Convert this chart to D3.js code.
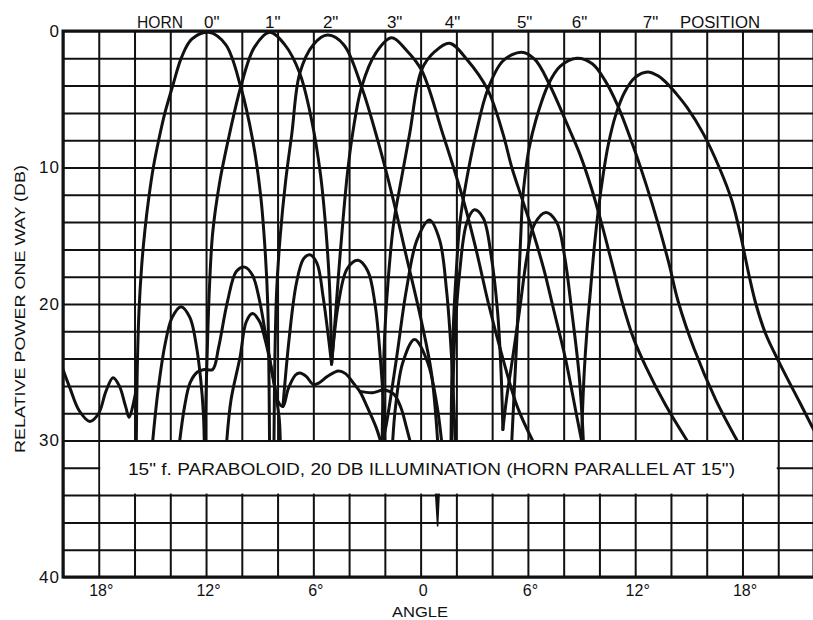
<!DOCTYPE html>
<html>
<head>
<meta charset="utf-8">
<script src="https://cdn.jsdelivr.net/npm/d3@7/dist/d3.min.js"></script>
<style>
  html, body { margin: 0; padding: 0; background: #fff; }
  svg { display: block; }
  text { font-family: "Liberation Sans", Arial, sans-serif; fill: #111; }
</style>
</head>
<body>
<svg id="chart" width="813" height="620"></svg>
<script>
// ---------------- DATA ----------------
const hornLabels = ['0"', '1"', '2"', '3"', '4"', '5"', '6"', '7"'];
const xTickValues = [-18, -12, -6, 0, 6, 12, 18];
const xTickLabels = ["18°", "12°", "6°", "0", "6°", "12°", "18°"];
const yTickValues = [0, 10, 20, 30, 40];

// main beams: [angle (deg), relative power (dB down)]
const horn0 = [[-15.9,30],[-15.85,25],[-15.75,20.5],[-15.6,17.2],[-15.42,14.6],[-15.2,12.2],[-14.95,10],[-14.65,8],[-14.3,6],[-13.86,4],[-13.36,1.9],[-12.8,0.6],[-11.85,0.1],[-10.9,1.0],[-10.06,4.1],[-9.39,8],[-8.95,12],[-8.7,16],[-8.55,20],[-8.45,30]];
const horn1 = [[-12.07,30],[-11.9,22],[-11.8,18.5],[-11.63,14.8],[-11.24,11.1],[-10.68,7.5],[-10.06,4.1],[-9.3,1.2],[-8.44,0.1],[-7.6,1.0],[-6.76,3.1],[-6.1,6.5],[-5.6,10.5],[-5.3,14.5],[-5.1,18.5],[-5.02,21.5],[-4.98,24.4]];
const horn2 = [[-8.2,30],[-8.15,24],[-8.05,19],[-7.85,15],[-7.55,11],[-7.2,7.5],[-6.76,3.1],[-6.0,1.0],[-5.2,0.3],[-4.3,1.0],[-3.3,4.1],[-2.4,8],[-1.56,12.2],[-0.8,16.5],[0.0,21],[0.6,25],[0.95,30]];
const horn3 = [[-4.98,24.4],[-4.8,21.5],[-4.6,18],[-4.35,14],[-4.1,10.5],[-3.8,7.5],[-3.3,4.1],[-2.5,1.6],[-1.62,0.5],[-0.8,1.4],[0.05,2.86],[1.23,7.5],[2.35,12.2],[3.1,16],[3.8,20],[4.6,24],[5.4,27.5],[6.26,30]];
const horn4 = [[-2.15,30],[-2.1,26],[-2.0,22],[-1.8,18],[-1.5,14],[-1.1,11],[-0.61,7.5],[0.05,2.86],[0.8,1.5],[1.62,0.9],[2.6,2.1],[3.75,4.3],[4.6,7.5],[5.1,10],[5.7,12.4],[6.3,14.8],[6.9,17.5],[7.4,20.2],[8.1,24],[8.7,28],[9.0,30]];
const horn5 = [[1.7,30],[1.75,25],[1.85,21],[2.0,17.5],[2.2,14],[2.57,10.9],[3.1,7.5],[3.75,4.3],[4.6,2.2],[5.65,1.55],[6.4,2.1],[7.2,3.9],[8.15,6.7],[8.9,9.0],[9.55,11.5],[10.1,14.0],[10.7,17.0],[11.3,20.0],[11.9,22.5],[12.6,24.6],[13.7,27.4],[14.9,30]];
const horn6 = [[5.1,30],[5.25,26],[5.4,22],[5.5,18],[5.6,15],[5.7,12.4],[5.85,10.5],[6.05,8.7],[6.45,6.5],[7.15,3.9],[7.8,2.6],[8.72,2.0],[9.6,2.4],[10.3,3.6],[11.0,5.4],[11.85,8.3],[12.6,11.2],[13.3,14.2],[13.9,17.1],[14.4,19.8],[15.3,23.3],[16.5,27],[17.7,30]];
const horn7 = [[9.0,30],[9.05,28],[9.15,25],[9.3,22],[9.5,19],[9.7,16],[9.95,13.0],[10.2,10.6],[10.5,8.3],[10.9,6.2],[11.4,4.5],[12.0,3.4],[12.69,3.0],[13.3,3.3],[13.75,3.8],[14.3,4.6],[14.9,5.6],[15.8,7.5],[16.7,10.0],[17.4,12.4],[17.9,15.0],[18.35,17.8],[18.75,20.0],[19.3,22.2],[20.1,24.4],[21.2,27.2],[21.86,28.9],[22.3,30]];

// side lobes
const lobeFarLeft = [[-20,24.8],[-19.6,26.2],[-19.1,27.8],[-18.5,28.6],[-18.0,28.0],[-17.6,26.4],[-17.2,25.4],[-16.85,26.0],[-16.5,27.5],[-16.3,28.3],[-16.05,27.2],[-15.88,26]];
const lobeA = [[-14.98,30],[-14.7,26.5],[-14.3,23],[-13.9,21],[-13.4,20.2],[-12.9,21],[-12.55,23],[-12.3,25.5],[-12.15,28],[-12.1,30]];
const lobeWave = [[-13.47,30],[-13.2,27.5],[-12.9,25.8],[-12.5,25.0],[-12.1,24.8],[-11.63,24.8],[-11.3,23.2],[-10.8,19.8],[-10.3,17.6],[-9.84,17.3],[-9.4,17.9],[-9.0,19.8],[-8.6,22.8],[-8.2,25.8],[-7.95,27.2],[-7.7,27.5],[-7.4,26.2],[-7.0,25.2],[-6.76,25.05],[-6.4,25.3],[-6.0,25.9],[-5.7,25.8],[-5.2,25.3],[-4.6,24.9],[-4.2,25.1],[-3.7,25.9],[-3.4,26.4],[-3.0,27.5],[-2.5,29],[-2.25,30]];
const lobeB = [[-10.84,30],[-10.6,27],[-10.1,23.9],[-9.75,21.3],[-9.4,20.7],[-9.0,21.3],[-8.7,22.6],[-8.3,25],[-8.05,27],[-7.9,28.5],[-7.85,30]];
const lobeC = [[-7.7,27.5],[-7.35,22.5],[-6.95,18.5],[-6.55,16.7],[-6.2,16.4],[-5.8,17],[-5.45,19.5],[-5.15,22.5],[-4.98,24.4]];
const lobeD = [[-4.98,24.4],[-4.6,20],[-4.1,17.4],[-3.5,16.8],[-2.95,17.6],[-2.55,20],[-2.25,24],[-2.05,28],[-2.0,30]];
const lobeE = [[-3.4,26.4],[-2.7,26.5],[-2.05,26.3],[-1.5,26.6],[-1.1,27.6],[-0.8,29.0],[-0.6,30]];
const lobeF = [[-1.56,30],[-1.4,27.5],[-1.0,24.3],[-0.34,22.6],[0.4,24.3],[0.9,27.3],[1.17,30]];
const lobeG = [[-2.1,30],[-1.9,28.7],[-1.34,23.9],[-0.8,19],[-0.2,15.3],[0.5,13.85],[1.06,15.3],[1.45,19],[1.73,23.9],[1.9,28.7],[1.95,30]];
const lobeH = [[1.75,30],[1.8,27],[1.9,22.6],[2.18,17.7],[2.57,14.1],[3.0,13.1],[3.5,13.7],[3.95,16.5],[4.3,20.5],[4.5,25],[4.6,29.2]];
const lobeI = [[4.6,29.2],[4.8,27],[5.14,24],[5.53,20.5],[5.95,16.5],[6.35,14.2],[7.0,13.3],[7.6,14],[8.05,16.5],[8.45,20.5],[8.85,25],[9.05,28.7],[9.1,30]];
const nullSpike = [[0.82,33.5],[0.95,36.3],[1.05,33.5]];

const horns = [horn0, horn1, horn2, horn3, horn4, horn5, horn6, horn7];
const lobes = [lobeFarLeft, lobeA, lobeWave, lobeB, lobeC, lobeD, lobeE, lobeF, lobeG, lobeH, lobeI];

// ---------------- CHART ----------------
const svg = d3.select("#chart");
const L = 63, R = 814, T = 31, B = 577;
const x = d3.scaleLinear().domain([-20, 22]).range([L, R]);
const y = d3.scaleLinear().domain([0, 40]).range([T, B]);

// grid via axes
const gx = svg.append("g").attr("transform", `translate(0,${B})`)
  .call(d3.axisBottom(x).tickValues(d3.range(-20, 23, 2)).tickSize(-(B - T)).tickFormat(""));
const gy = svg.append("g").attr("transform", `translate(${L},0)`)
  .call(d3.axisLeft(y).tickValues(d3.range(0, 41, 2)).tickSize(-(R - L)).tickFormat(""));
[gx, gy].forEach(g => {
  g.select(".domain").remove();
  g.selectAll(".tick line").attr("stroke", "#111").attr("stroke-width", 2);
});

// clip
svg.append("clipPath").attr("id", "plotclip")
  .append("rect").attr("x", L).attr("y", T).attr("width", R - L).attr("height", B - T);

const line = d3.line().x(d => x(d[0])).y(d => y(d[1])).curve(d3.curveCatmullRom.alpha(0.5));
const curves = svg.append("g").attr("clip-path", "url(#plotclip)");
curves.selectAll("path.lobe").data(lobes).join("path")
  .attr("class", "lobe").attr("d", line)
  .attr("fill", "none").attr("stroke", "#111").attr("stroke-width", 3)
  .attr("stroke-linejoin", "round").attr("stroke-linecap", "round");
curves.selectAll("path.horn").data(horns).join("path")
  .attr("class", "horn").attr("d", line)
  .attr("fill", "none").attr("stroke", "#111").attr("stroke-width", 3)
  .attr("stroke-linejoin", "round").attr("stroke-linecap", "round");

// caption box (white panel over the grid)
svg.append("rect")
  .attr("x", x(-18) + 1.5).attr("y", y(30) + 1.5)
  .attr("width", x(20) - x(-18) - 3).attr("height", y(34) - y(30) - 3)
  .attr("fill", "#fff");
svg.append("text")
  .attr("x", 128).attr("y", 475)
  .attr("font-size", 16).attr("textLength", 607).attr("lengthAdjust", "spacingAndGlyphs")
  .text('15" f. PARABOLOID, 20 DB ILLUMINATION (HORN PARALLEL AT 15")');

// null spike below the caption
curves.append("path").datum(nullSpike).attr("d", d3.line().x(d => x(d[0])).y(d => y(d[1])))
  .attr("fill", "#111").attr("stroke", "#111").attr("stroke-width", 1.5);

// frame
svg.append("rect").attr("x", L).attr("y", T).attr("width", R - L).attr("height", B - T)
  .attr("fill", "none").attr("stroke", "#111").attr("stroke-width", 3);

// axis labels via axes
const ax = svg.append("g").attr("transform", `translate(0,${B})`)
  .call(d3.axisBottom(x).tickValues(xTickValues).tickSize(0).tickPadding(8)
    .tickFormat((d, i) => xTickLabels[i]));
ax.select(".domain").remove();
ax.selectAll("text").attr("font-size", 16).attr("font-family", '"Liberation Sans", Arial, sans-serif')
  .attr("fill", "#111").attr("dx", 2);

const ay = svg.append("g").attr("transform", `translate(${L},0)`)
  .call(d3.axisLeft(y).tickValues(yTickValues).tickSize(0).tickPadding(3));
ay.select(".domain").remove();
ay.selectAll("text").attr("font-size", 17).attr("font-family", '"Liberation Sans", Arial, sans-serif')
  .attr("fill", "#111").attr("letter-spacing", 1);

// horn position header
svg.append("text").attr("x", 137).attr("y", 28).attr("font-size", 16)
  .attr("textLength", 46).attr("lengthAdjust", "spacingAndGlyphs").text("HORN");
svg.append("text").attr("x", 680).attr("y", 28).attr("font-size", 16)
  .attr("textLength", 80).attr("lengthAdjust", "spacingAndGlyphs").text("POSITION");
svg.selectAll("text.horn").data(horns).join("text").attr("class", "horn")
  .attr("x", d => x(d.reduce((a, b) => (b[1] < a[1] ? b : a))[0]) + 3)
  .attr("y", 28).attr("text-anchor", "middle").attr("font-size", 17)
  .text((d, i) => hornLabels[i]);

// titles
svg.append("text").attr("x", 392).attr("y", 617).attr("font-size", 15)
  .attr("textLength", 56).attr("lengthAdjust", "spacingAndGlyphs").text("ANGLE");
svg.append("text").attr("transform", "translate(25,309) rotate(-90)")
  .attr("text-anchor", "middle").attr("font-size", 15)
  .attr("textLength", 288).attr("lengthAdjust", "spacingAndGlyphs")
  .text("RELATIVE POWER ONE WAY (DB)");
</script>
</body>
</html>
